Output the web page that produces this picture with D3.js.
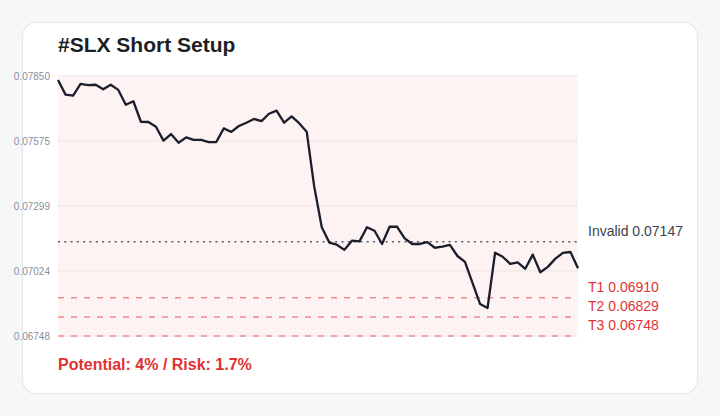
<!DOCTYPE html>
<html>
<head>
<meta charset="utf-8">
<script src="https://cdn.jsdelivr.net/npm/d3@7"></script>
<style>
  html, body { margin: 0; padding: 0; background: #f6f7f9; }
  svg { display: block; font-family: "Liberation Sans", Arial, Helvetica, sans-serif; }
</style>
</head>
<body>
<svg id="chart" width="720" height="416"></svg>
<script>
const title = "#SLX Short Setup";
const footer = "Potential: 4% / Risk: 1.7%";
const prices = [
  0.07833, 0.07771, 0.07767, 0.07817, 0.07811, 0.07813, 0.07794, 0.07813, 0.07791, 0.07728,
  0.07743, 0.07656, 0.07655, 0.07635, 0.07576, 0.07604, 0.07567, 0.07590, 0.07579, 0.07579,
  0.07570, 0.07570, 0.07628, 0.07613, 0.07638, 0.07652, 0.07668, 0.07659, 0.07690, 0.07703,
  0.07652, 0.07679, 0.07650, 0.07614, 0.07381, 0.07209, 0.07144, 0.07135, 0.07113, 0.07152,
  0.07149, 0.07209, 0.07194, 0.07138, 0.07211, 0.07211, 0.07162, 0.07138, 0.07138, 0.07146,
  0.07122, 0.07127, 0.07134, 0.07087, 0.07062, 0.06973, 0.06884, 0.06867, 0.07101, 0.07084,
  0.07054, 0.07060, 0.07033, 0.07093, 0.07018, 0.07041, 0.07076, 0.07100, 0.07104, 0.07035
];
const yTicks = [0.07850, 0.07575, 0.07299, 0.07024, 0.06748];
const levelNames = ["Invalid", "T1", "T2", "T3"];
const levelValues = [0.07147, 0.06910, 0.06829, 0.06748];

const svg = d3.select("#chart");
const W = 720, H = 416;
const m = { left: 58, right: 142, top: 76, bottom: 80 };
const plotW = W - m.left - m.right; // 520
const plotH = H - m.top - m.bottom; // 260

// card
svg.append("rect").attr("x", 22.5).attr("y", 22.5).attr("width", 675).attr("height", 371)
  .attr("rx", 14).attr("fill", "#ffffff").attr("stroke", "#e4e6ea").attr("stroke-width", 1.2);

svg.append("text").attr("x", 58).attr("y", 52).text(title)
  .attr("font-size", 21).attr("font-weight", "bold").attr("fill", "#1c1f26");

const x = d3.scaleLinear().domain([0, prices.length - 1]).range([m.left, m.left + plotW]);
const y = d3.scaleLinear().domain([d3.min(yTicks), d3.max(yTicks)]).range([m.top + plotH, m.top]);

const g = svg.append("g");
// shaded zone
g.append("rect").attr("x", m.left).attr("y", m.top).attr("width", plotW).attr("height", plotH)
  .attr("rx", 6).attr("fill", "#fef3f3");

// grid
g.selectAll("line.grid").data(yTicks).join("line").attr("class", "grid")
  .attr("x1", m.left).attr("x2", m.left + plotW)
  .attr("y1", d => y(d)).attr("y2", d => y(d))
  .attr("stroke", "#f4eaea").attr("stroke-width", 1.6);

// y axis
const yAxis = d3.axisLeft(y).tickValues(yTicks).tickFormat(d3.format(".5f")).tickSize(0).tickPadding(8);
const ax = svg.append("g").attr("transform", `translate(${m.left},0)`).call(yAxis);
ax.select(".domain").remove();
ax.selectAll("text").attr("font-size", 10).attr("fill", "#8a8f99")
  .attr("font-family", "'Liberation Sans', Arial, sans-serif");

// level lines
levelValues.forEach((v, i) => {
  const isInv = levelNames[i] === "Invalid";
  g.append("line").attr("x1", m.left).attr("x2", m.left + plotW)
    .attr("y1", y(v)).attr("y2", y(v))
    .attr("stroke", isInv ? "#555a62" : "#f08c8c")
    .attr("stroke-width", 1.5)
    .attr("stroke-dasharray", isInv ? "2,4.3" : "6,7");
});

// price line
const line = d3.line().x((d, i) => x(i)).y(d => y(d));
g.append("path").datum(prices).attr("d", line).attr("fill", "none")
  .attr("stroke", "#1a1d2b").attr("stroke-width", 2.3).attr("stroke-linejoin", "round");

// level labels
const labelY = [231, 287, 306, 325];
levelValues.forEach((v, i) => {
  const isInv = levelNames[i] === "Invalid";
  svg.append("text").attr("x", 588).attr("y", labelY[i]).attr("dy", "0.35em")
    .text(levelNames[i] + " " + d3.format(".5f")(v))
    .attr("font-size", 14).attr("fill", isInv ? "#3f444c" : "#e03434");
});

svg.append("text").attr("x", 58).attr("y", 370).text(footer)
  .attr("font-size", 16).attr("font-weight", "bold").attr("fill", "#e03131");
</script>
</body>
</html>
